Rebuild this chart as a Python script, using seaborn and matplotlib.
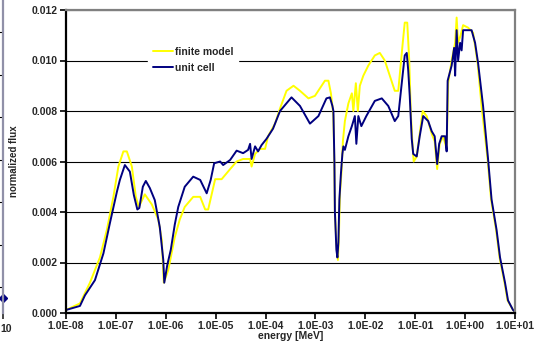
import numpy as np
import pandas as pd
import matplotlib
matplotlib.use("Agg")
import matplotlib.pyplot as plt
import seaborn as sns

# Energy grid given as log10(E / MeV), flux normalized
finite_log_e = [-8.0, -7.72, -7.52, -7.32, -7.18, -7.05, -6.95, -6.85, -6.78, -6.68,
                -6.60, -6.54, -6.42, -6.28, -6.15, -6.08, -6.04, -5.95, -5.82, -5.72,
                -5.62, -5.45, -5.31, -5.21, -5.15, -5.08, -5.01, -4.88, -4.71, -4.58,
                -4.45, -4.31, -4.28, -4.21, -4.11, -4.01, -3.95, -3.81, -3.71, -3.58,
                -3.44, -3.31, -3.14, -3.01, -2.91, -2.81, -2.74, -2.69, -2.66, -2.64,
                -2.62, -2.61, -2.60, -2.58, -2.55, -2.53, -2.51, -2.48, -2.45, -2.41,
                -2.34, -2.27, -2.24, -2.19, -2.15, -2.11, -2.04, -1.94, -1.81, -1.71,
                -1.61, -1.51, -1.41, -1.34, -1.25, -1.21, -1.16, -1.12, -1.09, -1.05,
                -1.03, -0.97, -0.91, -0.85, -0.77, -0.67, -0.61, -0.56, -0.51, -0.44,
                -0.37, -0.34, -0.27, -0.20, -0.17, -0.14, -0.09, -0.04, 0.06, 0.16,
                0.25, 0.33, 0.45, 0.52, 0.62, 0.69, 0.79, 0.85, 0.96, 1.0]
finite_flux = [0.00012, 0.00038, 0.0012, 0.0022, 0.0033, 0.0046, 0.0058, 0.0064, 0.0064, 0.0058,
               0.0046, 0.0042, 0.0047, 0.0043, 0.0037, 0.0029, 0.0012, 0.0017, 0.0030, 0.0037,
               0.0042, 0.0046, 0.0046, 0.0041, 0.0041, 0.0047, 0.0053, 0.0053, 0.0057, 0.0060,
               0.0061, 0.0061, 0.0058, 0.0063, 0.0065, 0.0065, 0.0070, 0.0075, 0.0081, 0.0088,
               0.0090, 0.0088, 0.0085, 0.0086, 0.0089, 0.0092, 0.0092, 0.0087, 0.0082, 0.0078,
               0.0058, 0.0040, 0.0036, 0.0027, 0.0021, 0.0030, 0.0047, 0.0055, 0.0068, 0.0076,
               0.0083, 0.0087, 0.0080, 0.0091, 0.0080, 0.0090, 0.0094, 0.0098, 0.0102, 0.0103,
               0.0100, 0.0094, 0.0088, 0.0088, 0.0107, 0.0115, 0.0115, 0.0100, 0.0080, 0.0065,
               0.0060, 0.0062, 0.0071, 0.0080, 0.0078, 0.0071, 0.0068, 0.0057, 0.0067, 0.0070,
               0.0065, 0.0091, 0.0100, 0.0107, 0.0117, 0.0107, 0.0110, 0.0114, 0.0113, 0.0111,
               0.0099, 0.0082, 0.0061, 0.0045, 0.0033, 0.0022, 0.0012, 0.0005, 0.00012, 0.00005]

unit_log_e = [-8.0, -7.72, -7.62, -7.42, -7.25, -7.12, -6.98, -6.92, -6.82, -6.72,
              -6.64, -6.57, -6.53, -6.46, -6.40, -6.32, -6.22, -6.12, -6.05, -6.03,
              -5.97, -5.90, -5.82, -5.75, -5.62, -5.45, -5.31, -5.18, -5.10, -5.03,
              -4.91, -4.85, -4.71, -4.58, -4.45, -4.35, -4.31, -4.28, -4.21, -4.15,
              -4.08, -3.98, -3.85, -3.71, -3.48, -3.31, -3.11, -2.94, -2.78, -2.71,
              -2.66, -2.64, -2.62, -2.61, -2.60, -2.58, -2.56, -2.54, -2.52, -2.49,
              -2.46, -2.44, -2.41, -2.34, -2.27, -2.21, -2.18, -2.14, -2.08, -1.98,
              -1.81, -1.67, -1.54, -1.41, -1.34, -1.27, -1.21, -1.17, -1.14, -1.11,
              -1.07, -1.04, -0.97, -0.91, -0.84, -0.74, -0.67, -0.61, -0.56, -0.52,
              -0.47, -0.40, -0.37, -0.35, -0.27, -0.22, -0.20, -0.17, -0.14, -0.10,
              -0.07, -0.04, 0.13, 0.20, 0.26, 0.36, 0.46, 0.53, 0.63, 0.70,
              0.80, 0.86, 0.96, 1.0]
unit_flux = [0.00012, 0.00028, 0.0007, 0.0013, 0.00236, 0.00356, 0.0048, 0.00527, 0.00586, 0.0056,
             0.00467, 0.0041, 0.00416, 0.0050, 0.00523, 0.00495, 0.00447, 0.0034, 0.0021, 0.0012,
             0.0019, 0.0025, 0.0035, 0.0042, 0.0050, 0.0054, 0.00527, 0.00474, 0.00527, 0.00593,
             0.0060, 0.00586, 0.00606, 0.00643, 0.00633, 0.00646, 0.0067, 0.0061, 0.0066, 0.0064,
             0.00665, 0.0069, 0.0073, 0.0080, 0.00854, 0.0082, 0.0075, 0.0078, 0.0085, 0.00854,
             0.0082, 0.0080, 0.0060, 0.0040, 0.0035, 0.0025, 0.0022, 0.0028, 0.0045, 0.0055,
             0.0063, 0.0066, 0.00646, 0.0070, 0.0074, 0.0078, 0.0067, 0.0078, 0.0074, 0.0078,
             0.0084, 0.0085, 0.0082, 0.0076, 0.0078, 0.0091, 0.0102, 0.0103, 0.0096, 0.0086,
             0.0069, 0.0063, 0.0062, 0.0070, 0.0078, 0.0076, 0.0072, 0.0070, 0.0059, 0.0067,
             0.0070, 0.0070, 0.0064, 0.0092, 0.0098, 0.0105, 0.0094, 0.0112, 0.0100, 0.0107,
             0.0104, 0.0112, 0.0112, 0.0107, 0.0099, 0.0082, 0.0061, 0.0045, 0.0033, 0.0022,
             0.0012, 0.0005, 0.00012, 0.00005]

series_names = ["finite model", "unit cell"]
series_colors = ["#FFFF00", "#000080"]
x_tick_exponents = list(range(-8, 2))
y_ticks = [0.000, 0.002, 0.004, 0.006, 0.008, 0.010, 0.012]

df = pd.concat([
    pd.DataFrame({"energy": 10.0 ** np.array(finite_log_e), "flux": finite_flux,
                  "model": series_names[0]}),
    pd.DataFrame({"energy": 10.0 ** np.array(unit_log_e), "flux": unit_flux,
                  "model": series_names[1]}),
], ignore_index=True)

sns.set_style("white")
plt.rcParams["font.family"] = ["Liberation Sans", "DejaVu Sans"]
plt.rcParams["font.weight"] = "bold"

W, H = 537, 353
fig = plt.figure(figsize=(W / 100, H / 100), dpi=100)
fig.patch.set_facecolor("white")

# plot area in pixels: x 66..515, y 10..313
L, R, T, B = 66, 515, 10, 313
ax = fig.add_axes([L / W, 1 - B / H, (R - L) / W, (B - T) / H])

sns.lineplot(data=df, x="energy", y="flux", hue="model", hue_order=series_names,
             palette=series_colors, estimator=None, sort=False, linewidth=1.4,
             ax=ax, legend=False)

ax.set_xscale("log")
ax.set_xlim(1e-8, 1e1)
ax.set_ylim(0, 0.012)
ax.set_xticks([10.0 ** e for e in x_tick_exponents])
ax.set_xticklabels([f"1.0E{e:+03d}" for e in x_tick_exponents])
ax.xaxis.set_minor_locator(matplotlib.ticker.NullLocator())
ax.set_yticks(y_ticks)
ax.set_yticklabels([f"{v:.3f}" for v in y_ticks])
ax.tick_params(axis="both", direction="out", length=4, width=1.2, color="black",
               labelsize=7.5, pad=2, bottom=True, left=True)
for lab in ax.get_xticklabels() + ax.get_yticklabels():
    lab.set_fontweight("bold")

ax.yaxis.grid(True, color="black", linewidth=0.8)
ax.xaxis.grid(False)
ax.set_axisbelow(True)
for side in ["left", "bottom"]:
    ax.spines[side].set_color("black")
    ax.spines[side].set_linewidth(1.6)
for side in ["top", "right"]:
    ax.spines[side].set_color("#808080")
    ax.spines[side].set_linewidth(1.6)

ax.set_xlabel("energy [MeV]", fontsize=7.5, fontweight="bold", labelpad=0)
ax.set_ylabel("normalized flux", fontsize=7, fontweight="bold", labelpad=9)

handles = [matplotlib.lines.Line2D([], [], color=c, linewidth=1.4) for c in series_colors]
leg = ax.legend(handles, series_names, loc="upper left", bbox_to_anchor=(0.183, 0.893),
                frameon=True, fancybox=False, framealpha=1, edgecolor="white",
                prop={"size": 7.5, "weight": "bold"}, handlelength=1.9, handletextpad=0.2,
                labelspacing=0.55, borderpad=0.45, borderaxespad=0)

# edge of the neighbouring panel on the left
frag = fig.add_axes([-0.2, 1 - B / H, 0.2 + 3 / W, B / H])
frag.set_xlim(0, 1)
frag.set_ylim(0, 7.36)
frag.set_yticks([0.6 + i for i in range(7)])
frag.set_yticklabels([])
frag.yaxis.grid(True, color="black", linewidth=0.8)
frag.set_xticks([1])
frag.set_xticklabels([])
frag.tick_params(axis="x", direction="out", length=4, width=1.2, bottom=True)
frag.tick_params(axis="y", length=0)
for side in ["left", "top", "bottom"]:
    frag.spines[side].set_visible(False)
frag.spines["right"].set_color("#9090a8")
frag.spines["right"].set_linewidth(1.6)
frag.plot([1.0], [0.35], marker="D", color="#000080", markersize=4, clip_on=False)
fig.text(0 / W, 1 - 329 / H, "10", fontsize=7.5, fontweight="bold", ha="left", va="center")

fig.savefig("out.png", dpi=100, facecolor="white")
